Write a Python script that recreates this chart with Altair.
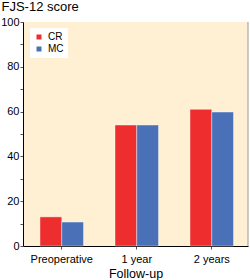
import altair as alt
import pandas as pd

categories = ["Preoperative", "1 year", "2 years"]
groups = ["CR", "MC"]
cr_values = [13, 54, 61]
mc_values = [10.7, 54, 59.8]

rows = []
for c, v in zip(categories, cr_values):
    rows.append({"period": c, "group": "CR", "score": v})
for c, v in zip(categories, mc_values):
    rows.append({"period": c, "group": "MC", "score": v})
df = pd.DataFrame(rows)

FONT = "Liberation Sans"

bars = alt.Chart(df).mark_bar(strokeWidth=0.8, strokeOpacity=0.5, stroke="white").encode(
    x=alt.X("period:N", sort=categories,
            scale=alt.Scale(paddingInner=0.42, paddingOuter=0.21, align=0.54),
            axis=alt.Axis(title="Follow-up", labelAngle=0, labelFontSize=11,
                          titleFontSize=12.5, titleFontWeight="normal",
                          tickSize=3, labelPadding=4, titlePadding=3,
                          domainColor="black", tickColor="#555555",
                          labelColor="black", titleColor="black",
                          labelFont=FONT, titleFont=FONT)),
    xOffset=alt.XOffset("group:N", sort=groups,
                        scale=alt.Scale(paddingInner=0, paddingOuter=0)),
    y=alt.Y("score:Q", scale=alt.Scale(domain=[0, 100], nice=False),
            axis=alt.Axis(title="FJS-12 score", values=list(range(0, 101, 10)),
                          labelExpr="datum.value % 20 == 0 ? datum.label : ''",
                          grid=False, tickSize=3, labelPadding=1,
                          labelFontSize=11, titleFontSize=13,
                          titleFontWeight="normal", titleAngle=0,
                          titleAlign="left", titleBaseline="alphabetic",
                          titleX=-22, titleY=-12,
                          domainColor="black", tickColor="#555555",
                          labelColor="black", titleColor="black",
                          labelFont=FONT, titleFont=FONT)),
    color=alt.Color("group:N", sort=groups,
                    scale=alt.Scale(domain=groups, range=["#EE2E2E", "#4A70B8"]),
                    legend=alt.Legend(title=None, orient="none", legendX=7, legendY=6,
                                      fillColor="white", padding=4,
                                      symbolType="square", symbolSize=25,
                                      symbolStrokeWidth=0, labelFontSize=10,
                                      labelOffset=4, rowPadding=2,
                                      labelFont=FONT, labelColor="black")),
)

border = alt.Chart(pd.DataFrame({"a": [0]})).mark_rule(color="#999999", strokeWidth=1).encode(
    x=alt.value(225), y=alt.value(0), y2=alt.value(224)
)

chart = alt.layer(bars, border).properties(
    width=225, height=224,
    autosize=alt.AutoSizeParams(type="none"),
    padding={"left": 23, "top": 22, "right": 2, "bottom": 34},
    background="white",
).configure_view(fill="#FFF0D4", stroke=None)

chart.save("out.html", embed_options={"renderer": "svg", "actions": False})
